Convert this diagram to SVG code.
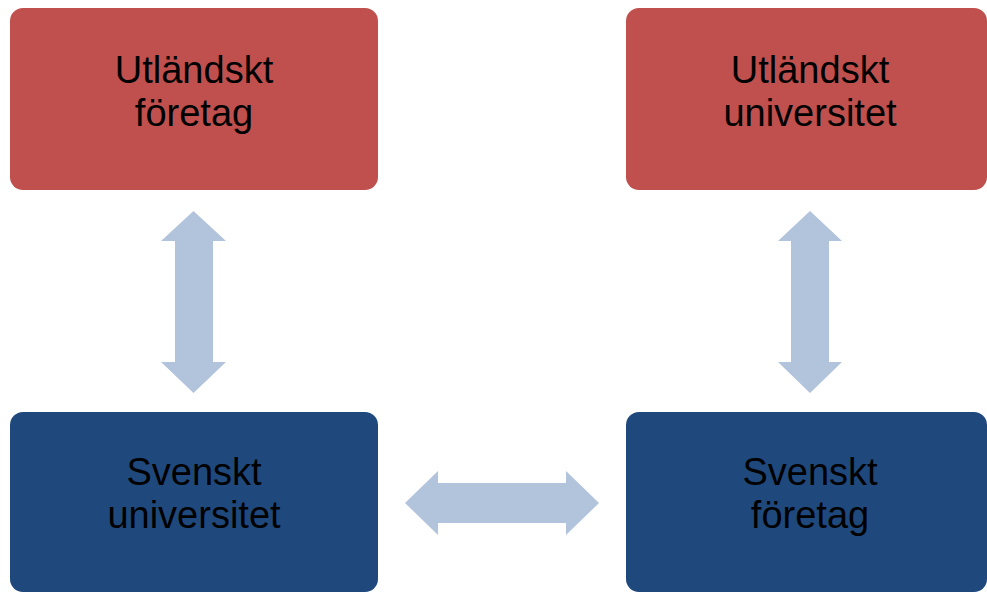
<svg xmlns="http://www.w3.org/2000/svg" width="987" height="592" viewBox="0 0 987 592">
  <style>
    .red { fill: #C0504D; }
    .blue { fill: #1F497D; }
    .arrow { fill: #B2C3DC; }
    .lbl { font-family: "Liberation Sans", Arial, sans-serif; font-size: 38px; fill: #000000; text-anchor: middle; }
  </style>
  <rect width="987" height="592" fill="#FFFFFF"/>
  <g id="connectors">
    <polygon class="arrow" points="193.5,211 226,241 213,241 213,362 226,362 193.5,393 161,362 175,362 175,241 161,241"/>
    <polygon class="arrow" points="810,211 842,241 829,241 829,362 842,362 810,393 778,362 791,362 791,241 778,241"/>
    <polygon class="arrow" points="405,503 438,471 438,483 566,483 566,471 599,503 566,535 566,523 438,523 438,535"/>
  </g>
  <g id="node-utlandskt-foretag">
    <rect class="red" x="10" y="8" width="368" height="182" rx="13"/>
    <text class="lbl" x="194" y="83">Utländskt</text>
    <text class="lbl" x="194" y="126">företag</text>
  </g>
  <g id="node-utlandskt-universitet">
    <rect class="red" x="626" y="8" width="361" height="182" rx="13"/>
    <text class="lbl" x="810" y="83">Utländskt</text>
    <text class="lbl" x="810" y="126">universitet</text>
  </g>
  <g id="node-svenskt-universitet">
    <rect class="blue" x="10" y="412" width="368" height="180" rx="13"/>
    <text class="lbl" x="194" y="485">Svenskt</text>
    <text class="lbl" x="194" y="528">universitet</text>
  </g>
  <g id="node-svenskt-foretag">
    <rect class="blue" x="626" y="412" width="361" height="180" rx="13"/>
    <text class="lbl" x="810" y="485">Svenskt</text>
    <text class="lbl" x="810" y="528">företag</text>
  </g>
</svg>
